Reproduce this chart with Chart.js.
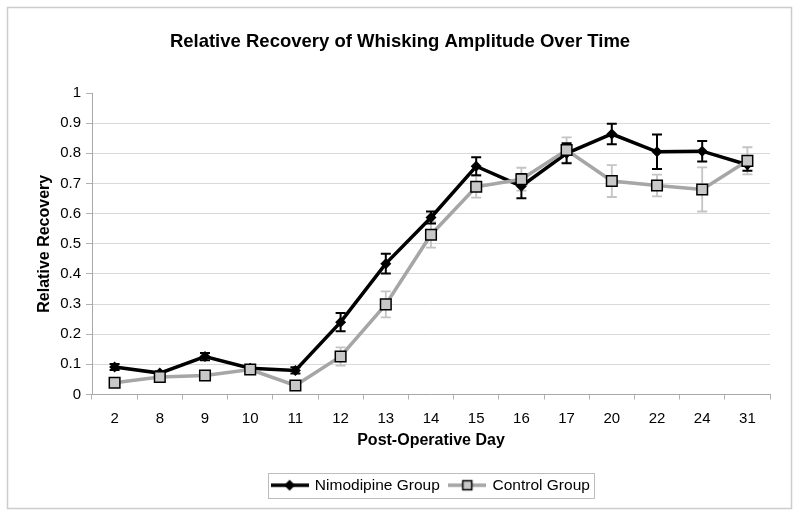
<!DOCTYPE html>
<html>
<head>
<meta charset="utf-8">
<script src="https://cdn.jsdelivr.net/npm/chart.js@4/dist/chart.umd.min.js"></script>
<style>
  html, body { margin: 0; padding: 0; background: #ffffff; }
  #wrap { width: 800px; height: 517px; position: relative; }
</style>
</head>
<body>
<div id="wrap"><canvas id="c" width="800" height="517"></canvas></div>
<script>
const days = ['2','8','9','10','11','12','13','14','15','16','17','20','22','24','31'];
const nimodipine    = [0.091,0.071,0.126,0.087,0.080,0.240,0.434,0.587,0.757,0.691,0.800,0.864,0.805,0.807,0.762];
const nimodipineErr = [0.010,0.006,0.012,0.008,0.010,0.030,0.033,0.020,0.030,0.040,0.033,0.034,0.057,0.034,0.020];
const control       = [0.039,0.058,0.063,0.083,0.030,0.126,0.299,0.530,0.689,0.714,0.811,0.708,0.693,0.680,0.775];
const controlErr    = [0.005,0.005,0.005,0.010,0.005,0.030,0.043,0.043,0.036,0.038,0.042,0.053,0.036,0.073,0.045];
const yTicks = [0,0.1,0.2,0.3,0.4,0.5,0.6,0.7,0.8,0.9,1];

const FONT = "'Liberation Sans', Arial, sans-serif";

function legendIcon(lineColor, marker) {
  const cv = document.createElement('canvas');
  cv.width = 38; cv.height = 16;
  const g = cv.getContext('2d');
  g.strokeStyle = lineColor; g.lineWidth = 3.5;
  g.beginPath(); g.moveTo(0, 8); g.lineTo(38, 8); g.stroke();
  if (marker === 'diamond') {
    g.fillStyle = '#000'; g.beginPath();
    g.moveTo(19, 2.5); g.lineTo(24.5, 8); g.lineTo(19, 13.5); g.lineTo(13.5, 8); g.closePath(); g.fill();
  } else {
    g.fillStyle = '#c8c8c8'; g.strokeStyle = '#000'; g.lineWidth = 1.5;
    g.fillRect(14.5, 3.5, 9, 9); g.strokeRect(14.5, 3.5, 9, 9);
  }
  return cv;
}

const errorBars = {
  id: 'errorBars',
  beforeDatasetsDraw(chart) {
    const ctx = chart.ctx, y = chart.scales.y;
    const sets = [
      { idx: 1, err: controlErr, color: '#c4c4c4', w: 1.8 },
      { idx: 0, err: nimodipineErr, color: '#000000', w: 2 }
    ];
    ctx.save();
    sets.forEach(s => {
      const meta = chart.getDatasetMeta(s.idx);
      const vals = chart.data.datasets[s.idx].data;
      ctx.strokeStyle = s.color; ctx.lineWidth = s.w;
      meta.data.forEach((pt, j) => {
        const top = y.getPixelForValue(vals[j] + s.err[j]);
        const bot = y.getPixelForValue(vals[j] - s.err[j]);
        ctx.beginPath();
        ctx.moveTo(pt.x, top); ctx.lineTo(pt.x, bot);
        ctx.moveTo(pt.x - 5, top); ctx.lineTo(pt.x + 5, top);
        ctx.moveTo(pt.x - 5, bot); ctx.lineTo(pt.x + 5, bot);
        ctx.stroke();
      });
    });
    ctx.restore();
  }
};

const frame = {
  id: 'frame',
  afterDraw(chart) {
    const ctx = chart.ctx;
    ctx.save();
    ctx.strokeStyle = '#cccccc'; ctx.lineWidth = 1.5;
    ctx.strokeRect(7.5, 7.5, 784, 501);
    const hb = chart.legend.legendHitBoxes;
    if (hb && hb.length) {
      const l = hb[0].left - 4;
      const r = hb[hb.length - 1].left + hb[hb.length - 1].width + 4;
      const t = hb[0].top - 5;
      const b = hb[0].top + hb[0].height + 4;
      ctx.strokeStyle = '#bdbdbd'; ctx.lineWidth = 1;
      ctx.strokeRect(Math.round(l) + 0.5, Math.round(t) + 0.5, Math.round(r - l), Math.round(b - t));
    }
    ctx.restore();
  }
};

new Chart(document.getElementById('c'), {
  type: 'line',
  data: {
    labels: days,
    datasets: [
      {
        label: 'Nimodipine Group', data: nimodipine, order: 1,
        borderColor: '#000000', borderWidth: 3.5, backgroundColor: '#000000',
        pointStyle: 'rectRot', pointRadius: 5.5, pointBorderWidth: 0,
        pointBackgroundColor: '#000000', tension: 0
      },
      {
        label: 'Control Group', data: control, order: 0,
        borderColor: '#a6a6a6', borderWidth: 3.5, backgroundColor: '#c8c8c8',
        pointStyle: 'rect', pointRadius: 7.5, pointBorderWidth: 1.5,
        pointBorderColor: '#000000', pointBackgroundColor: '#c8c8c8', tension: 0
      }
    ]
  },
  options: {
    responsive: false,
    animation: false,
    devicePixelRatio: 1,
    layout: { padding: { top: 0, left: 0, right: 0, bottom: 14 } },
    plugins: {
      title: {
        display: true,
        text: 'Relative Recovery of Whisking Amplitude Over Time',
        color: '#000',
        font: { family: FONT, size: 18.5, weight: 'bold' },
        padding: { top: 31, bottom: 39.8 }
      },
      legend: {
        position: 'bottom',
        fullSize: false,
        labels: {
          color: '#000',
          font: { family: FONT, size: 15.5 },
          usePointStyle: true,
          pointStyleWidth: 35,
          padding: 10,
          generateLabels(chart) {
            return [
              { text: 'Nimodipine Group', datasetIndex: 0, pointStyle: legendIcon('#000000', 'diamond'), fillStyle: '#000', strokeStyle: '#000', lineWidth: 0, hidden: false },
              { text: 'Control Group', datasetIndex: 1, pointStyle: legendIcon('#a6a6a6', 'square'), fillStyle: '#c8c8c8', strokeStyle: '#000', lineWidth: 0, hidden: false }
            ];
          }
        }
      },
      tooltip: { enabled: false }
    },
    scales: {
      x: {
        offset: true,
        grid: { offset: true, drawOnChartArea: false, drawTicks: true, tickLength: 5, color: '#b0b0b0', lineWidth: 1 },
        border: { color: '#a8a8a8', width: 1 },
        ticks: { color: '#000', font: { family: FONT, size: 15 }, padding: 10, maxRotation: 0, autoSkip: false },
        title: { display: true, text: 'Post-Operative Day', color: '#000', font: { family: FONT, size: 16, weight: 'bold' }, padding: { top: 0, bottom: 17 } },
        afterFit(s) { s.height = 73; }
      },
      y: {
        min: 0, max: 1,
        afterBuildTicks(s) { s.ticks = yTicks.map(v => ({ value: v })); },
        grid: {
          drawTicks: true, tickLength: 6,
          color: (c) => (c.tick && c.tick.value === 1) ? 'rgba(0,0,0,0)' : '#d9d9d9',
          tickColor: '#b0b0b0', lineWidth: 1
        },
        border: { color: '#a8a8a8', width: 1 },
        ticks: { color: '#000', font: { family: FONT, size: 15 }, padding: 5, callback: (v) => String(v) },
        title: { display: true, text: 'Relative Recovery', color: '#000', font: { family: FONT, size: 16, weight: 'bold' }, padding: { top: 35, bottom: 0 } },
        afterFit(s) { s.width = 92; }
      },
      spacer: {
        type: 'linear', position: 'right', display: true,
        grid: { display: false, drawTicks: false },
        border: { display: false },
        ticks: { display: false },
        afterFit(s) { s.width = 30; }
      }
    }
  },
  plugins: [errorBars, frame]
});
</script>
</body>
</html>
